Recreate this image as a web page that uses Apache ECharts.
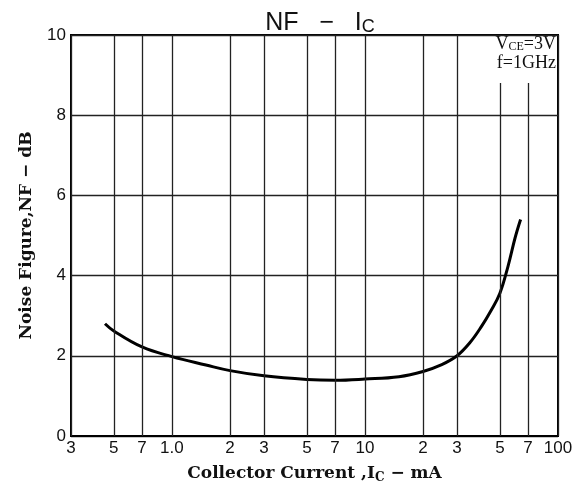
<!DOCTYPE html>
<html>
<head>
<meta charset="utf-8">
<script src="https://cdn.jsdelivr.net/npm/echarts@6/dist/echarts.min.js"></script>
<style>
  html, body { margin: 0; padding: 0; background: #fff; }
  #chart { width: 575px; height: 490px; }
</style>
</head>
<body>
<div id="chart"></div>
<script>
// 曲线数据 (Ic mA -> NF dB)
const currentData = [0.45, 0.5, 0.7, 1.0, 1.5, 2, 3, 5, 7, 10, 15, 20, 25, 30, 35, 40, 45, 50, 55, 60, 64]
const nfData = [2.8, 2.62, 2.22, 1.98, 1.77, 1.63, 1.5, 1.41, 1.39, 1.42, 1.48, 1.61, 1.78, 2.0, 2.33, 2.72, 3.13, 3.56, 4.22, 4.95, 5.4]

// x轴刻度
const tickValues = [0.3, 0.5, 0.7, 1, 2, 3, 5, 7, 10, 20, 30, 50, 70, 100]
const tickLabels = ['3', '5', '7', '1.0', '2', '3', '5', '7', '10', '2', '3', '5', '7', '100']
// 竖线在 50, 70 处让出右上角的文字
const shortLines = [50, 70]
const shortTop = 8.8

const serif = 'Liberation Serif'
const boldSerif = 'DejaVu Serif'
const sans = 'Liberation Sans'

const initChart = () => {
  const chart = echarts.init(document.getElementById('chart'))

  const gridLines = tickValues.map((v, i) => {
    const top = shortLines.indexOf(v) >= 0 ? shortTop : 10
    return [
      { coord: [v, 0], label: { formatter: tickLabels[i] } },
      { coord: [v, top] }
    ]
  })

  const options = {
    animation: false,
    title: {
      text: 'NF   −   I{sub|C}',
      left: 315,
      top: 6,
      textAlign: 'center',
      textStyle: {
        fontFamily: sans,
        fontWeight: 'normal',
        fontSize: 25,
        color: '#111',
        rich: {
          sub: { fontFamily: sans, fontSize: 18, color: '#111', padding: [7, 0, 0, 0] }
        }
      }
    },
    graphic: [
      {
        type: 'text',
        right: 19,
        top: 35,
        style: {
          text: 'V{s|CE}=3V',
          font: '18px "Liberation Serif"',
          fill: '#111',
          rich: { s: { fontFamily: serif, fontSize: 12, fill: '#111', padding: [6, 0, 0, 0] } }
        }
      },
      {
        type: 'text',
        right: 19,
        top: 54,
        style: {
          text: 'f=1GHz',
          font: '18px "Liberation Serif"',
          fill: '#111'
        }
      }
    ],
    grid: {
      left: 71,
      right: 17,
      top: 35,
      bottom: 54,
      show: true,
      borderColor: '#000',
      borderWidth: 2,
      backgroundColor: 'transparent'
    },
    xAxis: {
      type: 'log',
      logBase: 10,
      min: 0.3,
      max: 100,
      name: 'Collector Current ,I{sub|C} − mA',
      nameLocation: 'middle',
      nameGap: 28,
      nameTextStyle: {
        fontFamily: boldSerif,
        fontWeight: 'bold',
        fontSize: 17,
        color: '#111',
        rich: {
          sub: { fontFamily: boldSerif, fontWeight: 'bold', fontSize: 12, color: '#111', padding: [8, 0, 0, 0] }
        }
      },
      axisLine: { show: true, lineStyle: { color: '#000', width: 2 } },
      axisTick: { show: false },
      axisLabel: { show: false },
      splitLine: { show: false }
    },
    yAxis: {
      type: 'value',
      min: 0,
      max: 10,
      interval: 2,
      name: 'Noise Figure,NF − dB',
      nameLocation: 'middle',
      nameGap: 36,
      nameTextStyle: {
        fontFamily: boldSerif,
        fontWeight: 'bold',
        fontSize: 17,
        color: '#111'
      },
      axisLine: { show: true, lineStyle: { color: '#000', width: 2 } },
      axisTick: { show: false },
      axisLabel: {
        fontFamily: sans,
        fontSize: 17,
        color: '#111',
        margin: 5
      },
      splitLine: { show: true, lineStyle: { color: '#222', width: 1.4 } }
    },
    series: [
      {
        name: 'NF',
        type: 'line',
        smooth: 0.4,
        showSymbol: false,
        symbol: 'none',
        lineStyle: { color: '#000', width: 3 },
        data: currentData.map((x, i) => [x, nfData[i]]),
        markLine: {
          silent: true,
          symbol: ['none', 'none'],
          lineStyle: { color: '#222', width: 1.3, type: 'solid' },
          label: {
            show: true,
            position: 'start',
            distance: 4,
            fontFamily: sans,
            fontSize: 17,
            color: '#111'
          },
          emphasis: { disabled: true },
          data: gridLines
        }
      }
    ]
  }
  chart.setOption(options)
  return chart
}

let chart = initChart()
window.addEventListener('resize', function () {
  chart && chart.resize()
})
</script>
</body>
</html>
